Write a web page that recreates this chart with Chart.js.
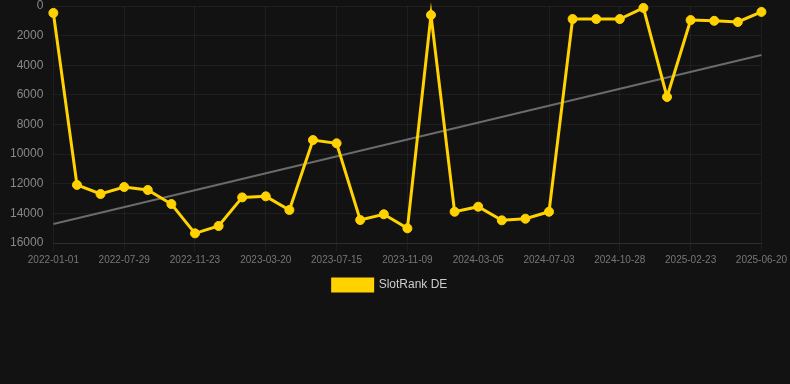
<!DOCTYPE html>
<html>
<head>
<meta charset="utf-8">
<script src="https://cdn.jsdelivr.net/npm/chart.js@4/dist/chart.umd.min.js"></script>
<style>
  html, body { margin: 0; padding: 0; background: #121212; }
  #wrap { position: relative; width: 790px; height: 301px; }
</style>
</head>
<body>
<div id="wrap"><canvas id="c"></canvas></div>
<script>
const categories = [
  "2022-01-01","2022-03-11","2022-05-20","2022-07-29","2022-09-07","2022-10-15",
  "2022-11-23","2023-01-01","2023-02-09","2023-03-20","2023-04-28","2023-06-06",
  "2023-07-15","2023-08-23","2023-10-01","2023-11-09","2023-12-18","2024-01-26",
  "2024-03-05","2024-04-14","2024-05-24","2024-07-03","2024-08-10","2024-09-19",
  "2024-10-28","2024-12-05","2025-01-14","2025-02-23","2025-04-01","2025-05-10",
  "2025-06-20"
];
const slotRankDE = [
  470, 12080, 12690, 12220, 12420, 13370,
  15350, 14850, 12920, 12850, 13770, 9050,
  9270, 14450, 14060, 15010, 610, 13890,
  13550, 14470, 14360, 13890, 880, 880,
  880, 130, 6140, 950, 1000, 1080,
  400
];
const trendStart = 14720;
const trendEnd = 3310;
const trendValues = categories.map((_, i) => i === 0 ? trendStart : (i === categories.length - 1 ? trendEnd : null));
const yTicks = [0, 2000, 4000, 6000, 8000, 10000, 12000, 14000, 16000];

new Chart(document.getElementById('c'), {
  type: 'line',
  data: {
    labels: categories,
    datasets: [
      {
        label: 'SlotRank DE',
        data: slotRankDE,
        borderColor: '#FFD200',
        backgroundColor: '#FFD200',
        borderWidth: 3,
        pointRadius: 4.5,
        pointBorderWidth: 1,
        pointBackgroundColor: '#FFD200',
        pointBorderColor: '#FFD200',
        tension: 0,
        clip: false,
        order: 1
      },
      {
        label: 'Trend',
        data: trendValues,
        spanGaps: true,
        borderColor: '#6b6b6b',
        backgroundColor: '#6b6b6b',
        borderWidth: 2,
        pointRadius: 0,
        clip: false,
        order: 2
      }
    ]
  },
  options: {
    responsive: true,
    maintainAspectRatio: false,
    animation: false,
    layout: { autoPadding: false, padding: { left: 0, right: 10 } },
    plugins: {
      legend: {
        position: 'bottom',
        labels: {
          color: '#cccccc',
          font: { family: 'Liberation Sans, Arial, sans-serif', size: 12 },
          boxWidth: 40,
          boxHeight: 12,
          filter: (item) => item.text === 'SlotRank DE'
        }
      },
      tooltip: { enabled: false }
    },
    scales: {
      x: {
        grid: { color: 'rgba(255,255,255,0.05)', tickLength: 8 },
        border: { color: 'rgba(255,255,255,0.08)' },
        ticks: {
          autoSkip: false,
          maxRotation: 0,
          color: '#777777',
          font: { family: 'Liberation Sans, Arial, sans-serif', size: 10 },
          callback: function(v, i) { return i % 3 === 0 ? categories[i] : null; }
        }
      },
      y: {
        reverse: true,
        min: 0,
        max: 16000,
        afterBuildTicks: (axis) => { axis.ticks = yTicks.map(v => ({ value: v })); },
        afterFit: (axis) => { axis.width += 10; },
        grid: { color: 'rgba(255,255,255,0.05)', drawTicks: true, tickLength: 10, tickColor: 'rgba(0,0,0,0)' },
        border: { display: false },
        ticks: {
          padding: 0,
          color: '#888888',
          font: { family: 'Liberation Sans, Arial, sans-serif', size: 12, lineHeight: 1 },
          callback: (v) => String(v)
        }
      }
    }
  }
});
</script>
</body>
</html>
